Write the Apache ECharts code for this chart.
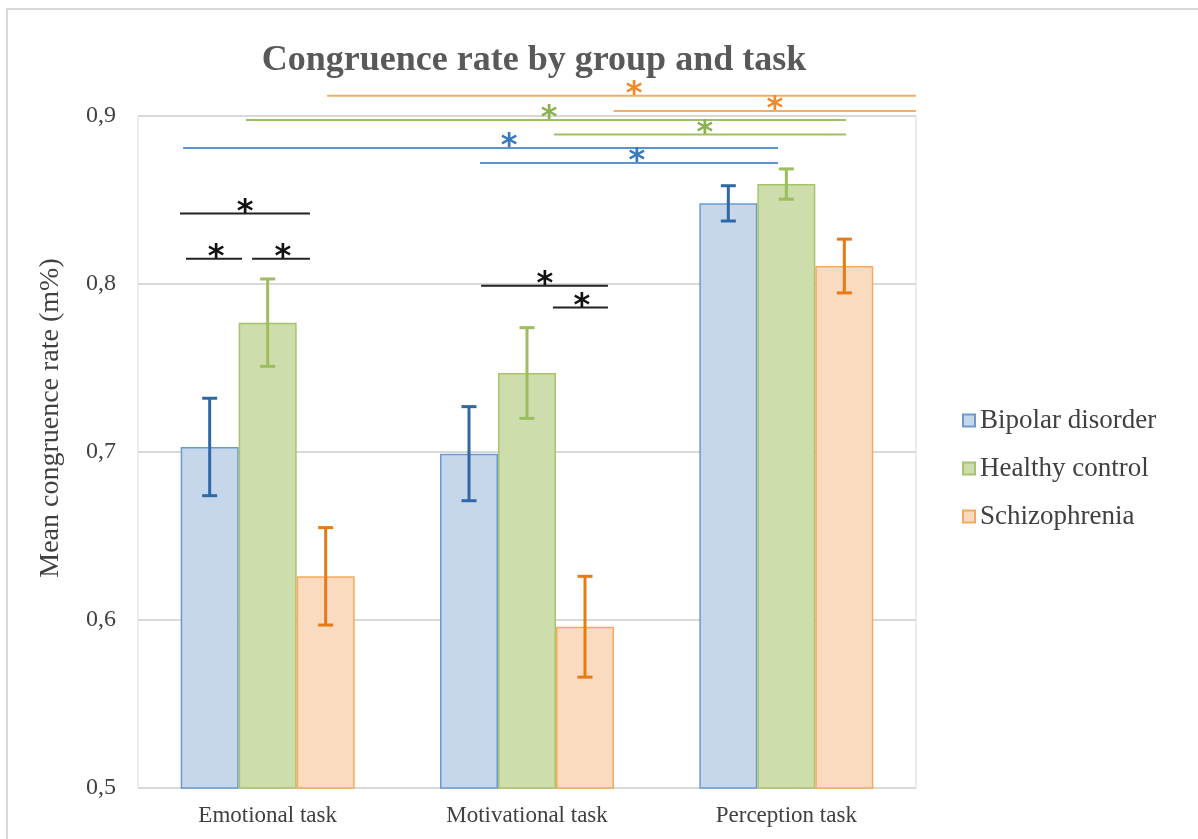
<!DOCTYPE html>
<html>
<head>
<meta charset="utf-8">
<script src="https://cdn.jsdelivr.net/npm/echarts@6/dist/echarts.min.js"></script>
<style>html,body{margin:0;padding:0;background:#fff;}#c{width:1198px;height:839px;}</style>
</head>
<body>
<div id="c"></div>
<script>
// ---- data ----
var categories = ['Emotional task', 'Motivational task', 'Perception task'];
var groups = ['Bipolar disorder', 'Healthy control', 'Schizophrenia'];
var bipolar = [0.703, 0.699, 0.848];
var healthy = [0.777, 0.747, 0.8595];
var schizo = [0.626, 0.596, 0.8107];
var bipolarErr = [0.029, 0.028, 0.0105];
var healthyErr = [0.026, 0.027, 0.009];
var schizoErr = [0.029, 0.030, 0.016];
var yTicks = ['0,5', '0,6', '0,7', '0,8', '0,9'];
// significance brackets: [xStart, xEnd, y, starX] on a 0..3 category-span scale
var sigBlack = [[0.162, 0.663, 0.842, 0.413], [0.185, 0.401, 0.815, 0.301], [0.440, 0.663, 0.815, 0.559],
                [1.323, 1.812, 0.799, 1.569], [1.600, 1.812, 0.786, 1.712]];
var sigBlue = [[0.174, 2.468, 0.881, 1.431], [1.319, 2.468, 0.872, 1.924]];
var sigGreen = [[0.416, 2.730, 0.8976, 1.585], [1.604, 2.730, 0.889, 2.186]];
var sigOrange = [[0.729, 3.0, 0.912, 1.913], [1.834, 3.0, 0.903, 2.456]];

// ---- styles ----
var fills = ['#C6D6EB', '#CEDDAC', '#FBDBC0'];
var borders = ['#6A9AD0', '#A6C46C', '#F6AA5E'];
var errColors = ['#2F68A5', '#9DBD5E', '#E57A16'];
var values = [bipolar, healthy, schizo];
var errs = [bipolarErr, healthyErr, schizoErr];
var BW = 58;

var chart = echarts.init(document.getElementById('c'));
var series = [];
groups.forEach(function (g, i) {
  series.push({
    name: g, type: 'bar', xAxisIndex: 0, yAxisIndex: 0,
    barWidth: BW, barGap: '0%',
    data: values[i],
    itemStyle: { color: fills[i], borderColor: borders[i], borderWidth: 1.5 },
    z: 2
  });
});
groups.forEach(function (g, i) {
  series.push({
    type: 'custom', xAxisIndex: 0, yAxisIndex: 0, z: 5,
    data: values[i].map(function (v, k) { return [k, v - errs[i][k], v + errs[i][k]]; }),
    renderItem: function (params, api) {
      var lo = api.coord([api.value(0), api.value(1)]);
      var hi = api.coord([api.value(0), api.value(2)]);
      var x = lo[0] + (i - 1) * BW;
      var st = { stroke: errColors[i], lineWidth: 3 };
      return { type: 'group', children: [
        { type: 'line', shape: { x1: x, y1: lo[1], x2: x, y2: hi[1] }, style: st },
        { type: 'line', shape: { x1: x - 7.5, y1: lo[1], x2: x + 7.5, y2: lo[1] }, style: st },
        { type: 'line', shape: { x1: x - 7.5, y1: hi[1], x2: x + 7.5, y2: hi[1] }, style: st }
      ]};
    }
  });
});
function sigSeries(list, lineColor, starColor) {
  return {
    type: 'custom', xAxisIndex: 1, yAxisIndex: 0, z: 6, clip: false, silent: true,
    data: list,
    renderItem: function (params, api) {
      var a = api.coord([api.value(0), api.value(2)]);
      var b = api.coord([api.value(1), api.value(2)]);
      var s = api.coord([api.value(3), api.value(2)]);
      return { type: 'group', children: [
        { type: 'line', shape: { x1: a[0], y1: a[1], x2: b[0], y2: b[1] }, style: { stroke: lineColor, lineWidth: 2 } },
        { type: 'text', x: s[0], y: s[1] + 15, style: { text: '*', fill: starColor, fontSize: 32, fontWeight: 'bold',
          fontFamily: 'DejaVu Sans', align: 'center', verticalAlign: 'bottom' } }
      ]};
    }
  };
}
series.push(sigSeries(sigBlack, '#222222', '#111111'));
series.push(sigSeries(sigBlue, '#5B93CD', '#3A78BE'));
series.push(sigSeries(sigGreen, '#9DC063', '#8CB14F'));
series.push(sigSeries(sigOrange, '#F2AE66', '#F08A2C'));

chart.setOption({
  animation: false,
  backgroundColor: '#fff',
  graphic: [{ type: 'rect', shape: { x: 7, y: 9, width: 1200, height: 840 },
    style: { fill: 'none', stroke: '#D9D9D9', lineWidth: 2 }, z: -1 }],
  title: {
    text: 'Congruence rate by group and task', left: 529, top: 38, textAlign: 'center',
    textStyle: { fontFamily: 'Liberation Serif', fontSize: 36, fontWeight: 'bold', color: '#595959' }
  },
  legend: {
    orient: 'vertical', left: 957, top: 402, itemWidth: 12, itemHeight: 12, itemGap: 21, data: groups,
    icon: 'rect',
    textStyle: { fontFamily: 'Liberation Serif', fontSize: 27, color: '#404040' }
  },
  grid: { left: 138, right: 282, top: 116, bottom: 51, show: true, borderColor: '#D9D9D9', borderWidth: 1 },
  xAxis: [
    { type: 'category', data: categories,
      axisLine: { show: false }, axisTick: { show: false },
      axisLabel: { fontFamily: 'Liberation Serif', fontSize: 23, color: '#404040', margin: 16 } },
    { type: 'value', min: 0, max: 3, show: false }
  ],
  yAxis: [{
    type: 'value', min: 0.5, max: 0.9, interval: 0.1,
    name: 'Mean congruence rate (m%)', nameLocation: 'middle', nameGap: 73,
    nameTextStyle: { fontFamily: 'Liberation Serif', fontSize: 28, color: '#404040', padding: [0, 0, 0, 68] },
    axisLine: { show: false }, axisTick: { show: false },
    splitLine: { lineStyle: { color: '#D9D9D9', width: 2 } },
    axisLabel: { fontFamily: 'Liberation Serif', fontSize: 24, color: '#404040', margin: 22,
      formatter: function (v) { return yTicks[Math.round((v - 0.5) * 10)]; } }
  }],
  series: series
});
</script>
</body>
</html>
